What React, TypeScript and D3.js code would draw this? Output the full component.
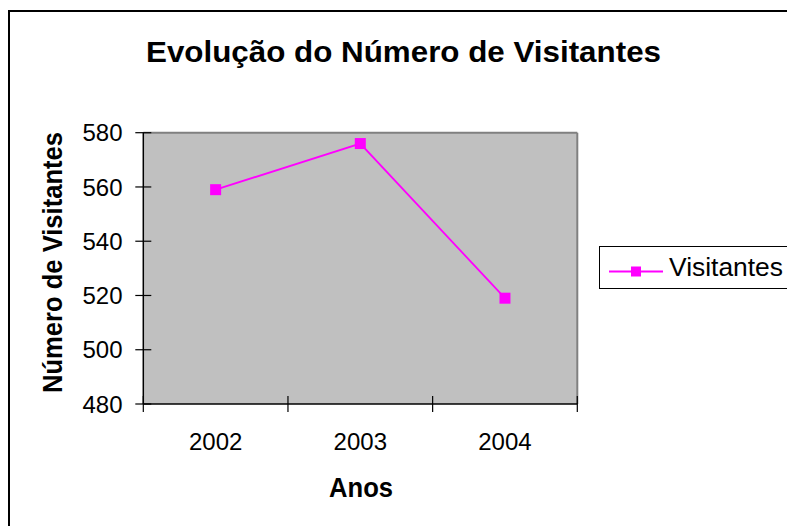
import React from 'react';
import * as d3 from 'd3';

const years = ['2002', '2003', '2004'];
const visitantes = [559, 576, 519];
const yTicks = [480, 500, 520, 540, 560, 580];

const width = 787;
const height = 526;
const plot = { left: 143.3, right: 577.3, top: 132.7, bottom: 404 };
const magenta = '#ff00ff';
const font = '"Liberation Sans", Arial, sans-serif';

const App = () => {
    const x = d3.scaleBand().domain(years).range([plot.left, plot.right]).padding(0);
    const y = d3.scaleLinear().domain([480, 580]).range([plot.bottom, plot.top]);

    const line = d3.line<number>()
        .x((_, i) => x(years[i])! + x.bandwidth() / 2)
        .y(d => y(d));

    const xEdges = years.map(d => x(d)!).concat([plot.right]);

    return (
        <svg width={width} height={height} style={{ position: 'absolute', left: 0, top: 0, background: '#fff' }}
            fontFamily={font}>
            {/* chart frame (cut off on the right and bottom) */}
            <rect x={9} y={11} width={width + 20} height={height + 20} fill="none" stroke="#000" strokeWidth={2} />

            <text x={403.5} y={62} textAnchor="middle" fontSize={30} fontWeight="bold"
                textLength={515} lengthAdjust="spacingAndGlyphs">Evolução do Número de Visitantes</text>

            {/* plot area */}
            <rect x={plot.left} y={plot.top} width={plot.right - plot.left} height={plot.bottom - plot.top}
                fill="#c0c0c0" />
            <line x1={plot.left} x2={plot.right} y1={plot.top} y2={plot.top} stroke="#808080" strokeWidth={2} />
            <line x1={plot.right} x2={plot.right} y1={plot.top} y2={plot.bottom} stroke="#808080" strokeWidth={2} />

            {/* y axis */}
            <line x1={plot.left} x2={plot.left} y1={plot.top} y2={plot.bottom} stroke="#000" strokeWidth={1.5} />
            {yTicks.map(t => (
                <g key={t}>
                    <line x1={plot.left - 8} x2={plot.left + 8} y1={y(t)} y2={y(t)} stroke="#000" strokeWidth={1.2} />
                    <text x={122.5} y={y(t)} dy="0.36em" textAnchor="end" fontSize={24}>{t}</text>
                </g>
            ))}

            {/* x axis */}
            <line x1={plot.left} x2={plot.right} y1={plot.bottom} y2={plot.bottom} stroke="#000" strokeWidth={1.5} />
            {xEdges.map((e, i) => (
                <line key={i} x1={e} x2={e} y1={plot.bottom - 8} y2={plot.bottom + 8} stroke="#000" strokeWidth={1.2} />
            ))}
            {years.map(d => (
                <text key={d} x={x(d)! + x.bandwidth() / 2} y={450} textAnchor="middle" fontSize={24}>{d}</text>
            ))}

            <text x={361} y={497} textAnchor="middle" fontSize={27} fontWeight="bold"
                textLength={64} lengthAdjust="spacingAndGlyphs">Anos</text>
            <text transform={`translate(62,262.5) rotate(-90)`} textAnchor="middle" fontSize={27} fontWeight="bold"
                textLength={261} lengthAdjust="spacingAndGlyphs">Número de Visitantes</text>

            {/* series */}
            <path d={line(visitantes) ?? ''} fill="none" stroke={magenta} strokeWidth={1.8} />
            {visitantes.map((v, i) => (
                <rect key={i} x={x(years[i])! + x.bandwidth() / 2 - 5.5} y={y(v) - 5.5} width={11} height={11}
                    fill={magenta} />
            ))}

            {/* legend */}
            <rect x={599.5} y={246.5} width={200} height={42} fill="#fff" stroke="#000" strokeWidth={1} />
            <line x1={609} x2={663} y1={271.5} y2={271.5} stroke={magenta} strokeWidth={1.8} />
            <rect x={631} y={266.5} width={10} height={10} fill={magenta} />
            <text x={669} y={275.7} fontSize={25} textLength={114} lengthAdjust="spacingAndGlyphs">Visitantes</text>
        </svg>
    );
};

export default App;
